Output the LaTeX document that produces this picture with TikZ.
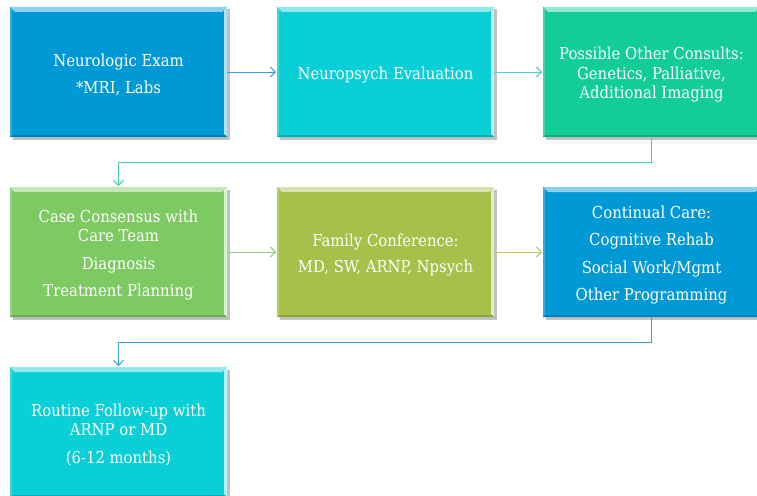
\documentclass[tikz,border=0pt]{standalone}
\usepackage{fontspec}
\setmainfont{DejaVu Serif Condensed}
\usetikzlibrary{arrows.meta,calc,shadows}

\definecolor{cBlue}{HTML}{0099D6}
\definecolor{cCyan}{HTML}{0ACFD6}
\definecolor{cTeal}{HTML}{12CC99}
\definecolor{cGreen}{HTML}{7DC962}
\definecolor{cOlive}{HTML}{A6C04A}
\definecolor{aBlue}{HTML}{3AA0DC}
\definecolor{aCyan}{HTML}{45CFE0}
\definecolor{aTeal}{HTML}{3DD6A6}
\definecolor{aGreen}{HTML}{8AD174}
\definecolor{aOlive}{HTML}{B5CC6A}

% tall invisible strut on the first line, lowering the text block a little
\newcommand\firstlinestrut{\rule{0pt}{18.5pt}}

\tikzset{
  stepbox/.style={
    rectangle, minimum width=217pt, minimum height=130pt,
    inner sep=0pt, outer sep=0pt, fill=#1, text=white,
    align=center, font=\fontsize{16.5}{19.5}\selectfont,
    drop shadow={shadow xshift=2.5pt, shadow yshift=-2.5pt, opacity=0.4, fill=black!60},
    path picture={
      \fill[#1!45!white]
        (path picture bounding box.north west) -- (path picture bounding box.north east)
        -- ($(path picture bounding box.north east)+(-5pt,-5pt)$)
        -- ($(path picture bounding box.north west)+(5pt,-5pt)$) -- cycle;
      \fill[#1!30!white]
        (path picture bounding box.north east) -- (path picture bounding box.south east)
        -- ($(path picture bounding box.south east)+(-3pt,3pt)$)
        -- ($(path picture bounding box.north east)+(-3pt,-3pt)$) -- cycle;
      \fill[#1!80!white]
        (path picture bounding box.north west) -- (path picture bounding box.south west)
        -- ($(path picture bounding box.south west)+(2pt,2pt)$)
        -- ($(path picture bounding box.north west)+(2pt,-2pt)$) -- cycle;
      \fill[#1!85!black]
        (path picture bounding box.south west) -- (path picture bounding box.south east)
        -- ($(path picture bounding box.south east)+(-2pt,2pt)$)
        -- ($(path picture bounding box.south west)+(2pt,2pt)$) -- cycle;
    }
  },
  flow/.style={draw=#1, line width=1pt, -{Straight Barb[length=5pt,width=10pt]}}
}

\begin{document}
\begin{tikzpicture}[x=1pt,y=1pt]
  \useasboundingbox[fill=white] (0,0) rectangle (757,-495);

  % first row
  \node[stepbox=cBlue] (exam) at (118.5,-72) {\firstlinestrut Neurologic Exam\\[7pt]*MRI, Labs};
  \node[stepbox=cCyan] (npsy) at (385.5,-72) {\firstlinestrut Neuropsych Evaluation};
  \node[stepbox=cTeal] (cons) at (651.5,-72) {\firstlinestrut Possible Other Consults:\\Genetics, Palliative,\\Additional Imaging};

  % second row
  \node[stepbox=cGreen] (case) at (118.5,-252) {\firstlinestrut Case Consensus with\\Care Team\\[8pt]Diagnosis\\[8pt]Treatment Planning};
  \node[stepbox=cOlive] (fam) at (385.5,-252) {\firstlinestrut Family Conference:\\[7pt]MD, SW, ARNP, Npsych};
  \node[stepbox=cBlue] (care) at (651.5,-252) {\firstlinestrut Continual Care:\\[8pt]Cognitive Rehab\\[8pt]Social Work/Mgmt\\[8pt]Other Programming};

  % third row
  \node[stepbox=cCyan] (follow) at (118.5,-432) {\firstlinestrut Routine Follow-up with\\ARNP or MD\\[8pt](6-12 months)};

  % connectors
  \draw[flow=aBlue] (exam.east) -- ($(npsy.west)+(-1pt,0)$);
  \draw[flow=aCyan] (npsy.east) -- ($(cons.west)+(-1pt,0)$);
  \draw[flow=aTeal] (cons.south) -- ++(0,-25) -| ($(case.north)+(0,1pt)$);
  \draw[flow=aGreen] (case.east) -- ($(fam.west)+(-1pt,0)$);
  \draw[flow=aOlive] (fam.east) -- ($(care.west)+(-1pt,0)$);
  \draw[flow=aBlue] (care.south) -- ++(0,-25) -| ($(follow.north)+(0,1pt)$);
\end{tikzpicture}
\end{document}
